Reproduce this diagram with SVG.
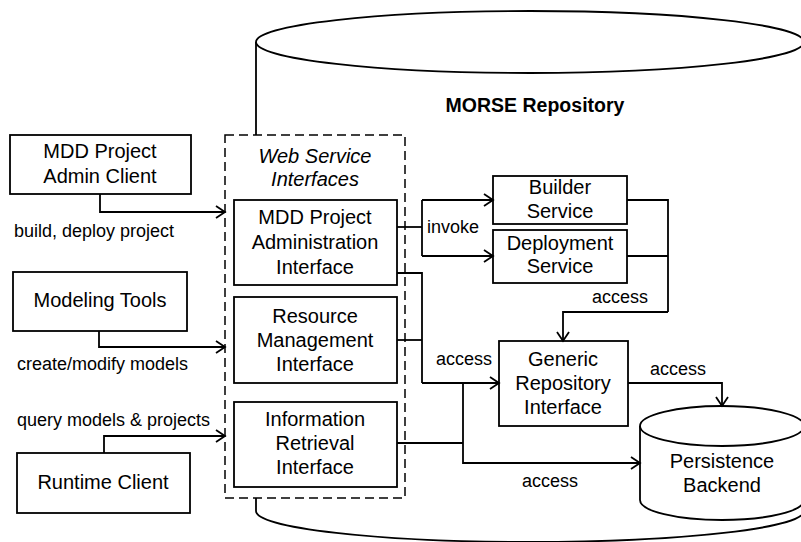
<svg xmlns="http://www.w3.org/2000/svg" width="801" height="542" viewBox="0 0 801 542">
<defs>
<style>
.box{fill:#fff;stroke:#000;stroke-width:1.8}
.n{font-family:"Liberation Sans",Arial,sans-serif;font-size:20px;fill:#000;text-anchor:middle}
.lbl{font-family:"Liberation Sans",Arial,sans-serif;font-size:18px;fill:#000}
.c{fill:none;stroke:#000;stroke-width:1.8}
.ca{fill:none;stroke:#000;stroke-width:1.8;marker-end:url(#arr)}
</style>
<marker id="arr" markerUnits="userSpaceOnUse" markerWidth="14" markerHeight="16" refX="10" refY="7" orient="auto">
<path d="M1,1 L10,7 L1,13" fill="none" stroke="#000" stroke-width="1.8"/>
</marker>
</defs>
<rect width="801" height="542" fill="#fff"/>

<g id="morse-repository">
<path d="M256,42 L256,511 A274,31 0 0 0 804,511" fill="#fff" stroke="#000" stroke-width="1.8"/>
<ellipse cx="530" cy="42" rx="274" ry="31" fill="#fff" stroke="#000" stroke-width="1.8"/>
<text x="535" y="112" font-family="'Liberation Sans',Arial,sans-serif" font-size="19.5" font-weight="bold" text-anchor="middle">MORSE Repository</text>
</g>

<g id="web-service-interfaces">
<rect x="225" y="135" width="180" height="363" fill="#fff" stroke="#000" stroke-width="1.5" stroke-dasharray="9,5"/>
<text class="n" x="315" y="163" font-style="italic">Web Service</text>
<text class="n" x="315" y="186" font-style="italic">Interfaces</text>
</g>

<g id="mdd-admin-client">
<rect class="box" x="10" y="135" width="181" height="59"/>
<text class="n" x="100" y="158">MDD Project</text>
<text class="n" x="100" y="183">Admin Client</text>
</g>

<g id="modeling-tools">
<rect class="box" x="13" y="272" width="174" height="59"/>
<text class="n" x="100" y="307">Modeling Tools</text>
</g>

<g id="runtime-client">
<rect class="box" x="17" y="453" width="173" height="60"/>
<text class="n" x="103" y="489">Runtime Client</text>
</g>

<g id="mdd-admin-interface">
<rect class="box" x="234" y="200" width="163" height="85"/>
<text class="n" x="315" y="224">MDD Project</text>
<text class="n" x="315" y="249">Administration</text>
<text class="n" x="315" y="274">Interface</text>
</g>

<g id="resource-management-interface">
<rect class="box" x="234" y="297" width="163" height="86"/>
<text class="n" x="315" y="323">Resource</text>
<text class="n" x="315" y="347">Management</text>
<text class="n" x="315" y="371">Interface</text>
</g>

<g id="information-retrieval-interface">
<rect class="box" x="234" y="402" width="163" height="85"/>
<text class="n" x="315" y="426">Information</text>
<text class="n" x="315" y="450">Retrieval</text>
<text class="n" x="315" y="474">Interface</text>
</g>

<g id="builder-service">
<rect class="box" x="493" y="176" width="134" height="48"/>
<text class="n" x="560" y="194">Builder</text>
<text class="n" x="560" y="218">Service</text>
</g>

<g id="deployment-service">
<rect class="box" x="493" y="230" width="134" height="53"/>
<text class="n" x="560" y="250">Deployment</text>
<text class="n" x="560" y="273">Service</text>
</g>

<g id="generic-repository-interface">
<rect class="box" x="499" y="341" width="129" height="85"/>
<text class="n" x="563" y="366">Generic</text>
<text class="n" x="563" y="390">Repository</text>
<text class="n" x="563" y="414">Interface</text>
</g>

<g id="persistence-backend">
<path d="M640,426 L640,500 A82,20 0 0 0 804,500 L804,426" fill="#fff" stroke="#000" stroke-width="1.8"/>
<ellipse cx="722" cy="426" rx="82" ry="20" fill="#fff" stroke="#000" stroke-width="1.8"/>
<text class="n" x="722" y="468">Persistence</text>
<text class="n" x="722" y="492">Backend</text>
</g>

<g id="connectors">
<path class="ca" d="M100,194 L100,212 L225,212"/>
<path class="ca" d="M99,331 L99,347 L225,347"/>
<path class="ca" d="M104,453 L104,436 L225,436"/>
<path class="c" d="M397,227 L422,227"/>
<path class="c" d="M422,200 L422,256"/>
<path class="ca" d="M422,200 L493,200"/>
<path class="ca" d="M422,256 L493,256"/>
<path class="c" d="M627,200 L668,200 L668,312"/>
<path class="c" d="M627,256 L668,256"/>
<path class="ca" d="M668,312 L563,312 L563,341"/>
<path class="c" d="M397,273 L422,273 L422,383"/>
<path class="c" d="M397,340 L422,340"/>
<path class="ca" d="M422,383 L499,383"/>
<path class="c" d="M397,443 L463,443"/>
<path class="ca" d="M463,383 L463,463 L640,463"/>
<path class="ca" d="M628,383 L722,383 L722,406"/>
<text class="lbl" x="14" y="237">build, deploy project</text>
<text class="lbl" x="17" y="370">create/modify models</text>
<text class="lbl" x="17" y="426">query models &amp; projects</text>
<text class="lbl" x="427" y="233">invoke</text>
<text class="lbl" x="592" y="303">access</text>
<text class="lbl" x="436" y="365">access</text>
<text class="lbl" x="650" y="375">access</text>
<text class="lbl" x="522" y="487">access</text>
</g>
</svg>
